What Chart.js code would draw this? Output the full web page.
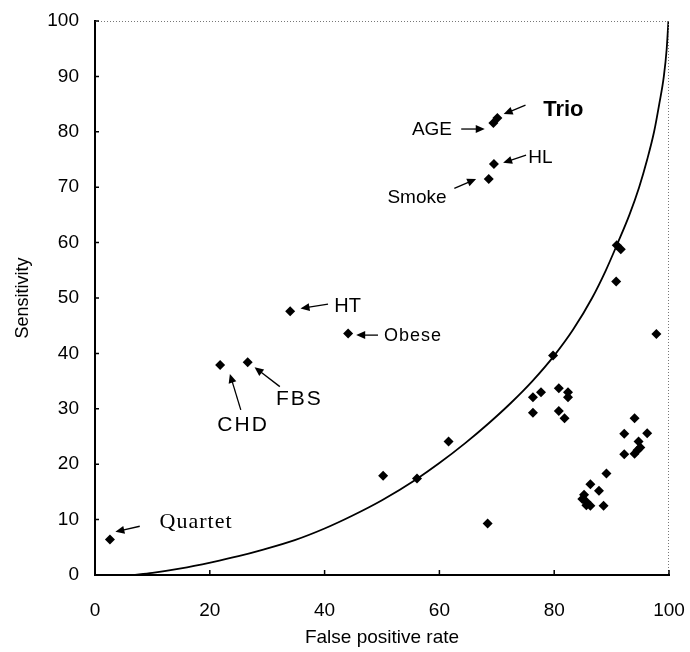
<!DOCTYPE html>
<html lang="en">
<head>
<meta charset="UTF-8">
<title>Sensitivity vs false positive rate</title>
<script src="https://cdn.jsdelivr.net/npm/chart.js"></script>
<style>
  body { margin: 0; background: #fff; }
  #wrap { width: 690px; height: 652px; }
</style>
</head>
<body>
<div id="wrap"><canvas id="roc"></canvas></div>
<script>
// each marker: false positive rate (%) and sensitivity (%)
const fpr = [2.6, 21.8, 26.6, 34.0, 44.1, 50.2, 56.1, 61.6, 68.4, 68.6, 69.5, 69.4, 70.1,
  79.8, 76.3, 77.7, 76.3, 80.8, 82.4, 82.4, 80.8, 81.8,
  90.9, 91.6, 90.8, 97.8, 94.0, 92.2, 96.2, 94.7, 92.2, 94.0, 94.5, 95.0,
  89.1, 86.3, 87.8, 85.2, 84.9, 85.6, 86.3, 88.6, 85.6];
const sens = [6.4, 37.9, 38.4, 47.6, 43.6, 17.9, 17.4, 24.1, 9.3, 71.5, 74.2, 81.6, 82.5,
  39.6, 32.1, 33.0, 29.3, 33.7, 33.0, 32.1, 29.6, 28.3,
  59.5, 58.8, 53.0, 43.5, 28.3, 25.5, 25.6, 24.1, 21.8, 21.9, 22.5, 23.0,
  18.3, 16.4, 15.2, 14.5, 13.7, 12.6, 12.5, 12.5, 13.2];

// the curved reference line
const curveFpr = [6.5, 10.0, 15.0, 20.3, 25.0, 29.0, 34.8, 40.0, 44.8, 50.0, 56.0, 60.0, 64.5,
  68.5, 72.4, 76.2, 80.0, 83.3, 86.6, 89.0, 91.1, 93.1, 94.8, 96.2, 97.4, 98.3, 99.1, 99.6, 99.9];
const curveSens = [0, 0.4, 1.2, 2.3, 3.4, 4.5, 6.3, 8.4, 10.7, 13.5, 17.3, 20.2, 23.8,
  27.3, 31.0, 35.0, 39.6, 44.3, 50.0, 55.0, 60.0, 65.0, 70.0, 75.0, 80.0, 85.0, 90.0, 95.0, 100];

const xTicks = [0, 20, 40, 60, 80, 100];
const yTicks = [0, 10, 20, 30, 40, 50, 60, 70, 80, 90, 100];
const labelNames = ['Trio', 'AGE', 'HL', 'Smoke', 'HT', 'Obese', 'FBS', 'CHD', 'Quartet'];

// where each label sits and where its arrow runs (data units): text x,y, tail x,y, head x,y
const placement = {
  Trio:    { at: [81.6, 83.9], arrow: [75.0, 84.8, 71.2, 83.2], font: 'bold 22px "Liberation Sans", Arial' },
  AGE:     { at: [58.7, 80.3], arrow: [63.8, 80.5, 67.9, 80.5], font: '19px "Liberation Sans", Arial' },
  HL:      { at: [77.6, 75.4], arrow: [75.1, 75.8, 71.1, 74.4], font: '19px "Liberation Sans", Arial' },
  Smoke:   { at: [56.1, 68.1], arrow: [62.6, 69.8, 66.4, 71.5], font: '19px "Liberation Sans", Arial' },
  HT:      { at: [44.0, 48.4], arrow: [40.6, 48.9, 35.8, 48.1], font: '20px "Liberation Sans", Arial' },
  Obese:   { at: [55.4, 43.1], arrow: [49.3, 43.3, 45.5, 43.3], font: '18px "Liberation Sans", Arial', spacing: '1px' },
  FBS:     { at: [35.6, 31.7], arrow: [32.2, 34.0, 27.8, 37.5], font: '21px "Liberation Sans", Arial', spacing: '2px' },
  CHD:     { at: [25.8, 27.0], arrow: [25.4, 29.8, 23.5, 36.3], font: '21px "Liberation Sans", Arial', spacing: '2px' },
  Quartet: { at: [17.6, 9.5],  arrow: [7.8, 8.8, 3.55, 7.8],    font: '22px "Liberation Serif", serif', spacing: '1px' }
};

const points = fpr.map((x, i) => ({ x: x, y: sens[i] }));
const curve = curveFpr.map((x, i) => ({ x: x, y: curveSens[i] }));

function arrow(ctx, x1, y1, x2, y2) {
  const a = Math.atan2(y2 - y1, x2 - x1);
  const len = 9, w = 4;
  ctx.beginPath();
  ctx.moveTo(x1, y1);
  ctx.lineTo(x2 - Math.cos(a) * len * 0.6, y2 - Math.sin(a) * len * 0.6);
  ctx.stroke();
  ctx.beginPath();
  ctx.moveTo(x2, y2);
  ctx.lineTo(x2 - Math.cos(a) * len - Math.sin(a) * w, y2 - Math.sin(a) * len + Math.cos(a) * w);
  ctx.lineTo(x2 - Math.cos(a) * len + Math.sin(a) * w, y2 - Math.sin(a) * len - Math.cos(a) * w);
  ctx.closePath();
  ctx.fill();
}

const frame = {
  id: 'frame',
  afterDraw(chart) {
    const { ctx, chartArea: a, scales: { x, y } } = chart;
    ctx.save();
    // dotted top and right edges
    ctx.strokeStyle = '#777';
    ctx.lineWidth = 1;
    ctx.setLineDash([1, 2]);
    ctx.beginPath();
    ctx.moveTo(a.left, a.top + 0.5);
    ctx.lineTo(a.right - 0.5, a.top + 0.5);
    ctx.lineTo(a.right - 0.5, a.bottom);
    ctx.stroke();
    ctx.setLineDash([]);
    // short ticks pointing inside
    ctx.strokeStyle = '#000';
    ctx.lineWidth = 1.5;
    ctx.beginPath();
    xTicks.forEach(v => {
      const px = x.getPixelForValue(v);
      ctx.moveTo(px, a.bottom);
      ctx.lineTo(px, a.bottom - 5);
    });
    yTicks.forEach(v => {
      const py = y.getPixelForValue(v);
      ctx.moveTo(a.left, py);
      ctx.lineTo(a.left + 4, py);
    });
    ctx.stroke();
    // labels with arrows
    ctx.fillStyle = '#000';
    ctx.lineWidth = 1.3;
    ctx.textAlign = 'center';
    ctx.textBaseline = 'middle';
    labelNames.forEach(name => {
      const p = placement[name];
      ctx.font = p.font;
      ctx.letterSpacing = p.spacing || '0px';
      ctx.fillText(name, x.getPixelForValue(p.at[0]), y.getPixelForValue(p.at[1]));
      const [x1, y1, x2, y2] = p.arrow;
      arrow(ctx, x.getPixelForValue(x1), y.getPixelForValue(y1),
        x.getPixelForValue(x2), y.getPixelForValue(y2));
    });
    ctx.restore();
  }
};

const tickFont = { family: '"Liberation Sans", Arial, sans-serif', size: 19 };

new Chart(document.getElementById('roc'), {
  type: 'scatter',
  data: {
    datasets: [
      {
        label: 'risk factors',
        data: points,
        pointStyle: 'rectRot',
        pointRadius: 5,
        backgroundColor: '#000',
        borderColor: '#000',
        borderWidth: 0
      },
      {
        label: 'curve',
        type: 'line',
        data: curve,
        borderColor: '#000',
        borderWidth: 1.8,
        pointRadius: 0,
        cubicInterpolationMode: 'monotone',
        fill: false
      }
    ]
  },
  options: {
    responsive: true,
    maintainAspectRatio: false,
    animation: false,
    layout: { padding: { top: 21, right: 21, left: 0, bottom: 0 } },
    plugins: {
      legend: { display: false },
      tooltip: { enabled: false }
    },
    scales: {
      x: {
        type: 'linear',
        min: 0,
        max: 100,
        afterFit: s => { s.height = 77; s.paddingLeft = 0; s.paddingRight = 0; },
        afterBuildTicks: s => { s.ticks = xTicks.map(v => ({ value: v })); },
        grid: { display: false, drawTicks: false },
        border: { display: true, color: '#000', width: 2 },
        ticks: { color: '#000', font: tickFont, padding: 24 },
        title: {
          display: true, text: 'False positive rate', color: '#000',
          font: { family: '"Liberation Sans", Arial, sans-serif', size: 19 },
          padding: { top: 0, bottom: 3 }
        }
      },
      y: {
        type: 'linear',
        min: 0,
        max: 100,
        afterFit: s => { s.width = 95; s.paddingTop = 0; s.paddingBottom = 0; },
        afterBuildTicks: s => { s.ticks = yTicks.map(v => ({ value: v })); },
        grid: { display: false, drawTicks: false },
        border: { display: true, color: '#000', width: 2 },
        ticks: { color: '#000', font: tickFont, padding: 16 },
        title: {
          display: true, text: 'Sensitivity', color: '#000',
          font: { family: '"Liberation Sans", Arial, sans-serif', size: 18 },
          padding: { top: 12, bottom: 0 }
        }
      }
    }
  },
  plugins: [frame]
});
</script>
</body>
</html>
